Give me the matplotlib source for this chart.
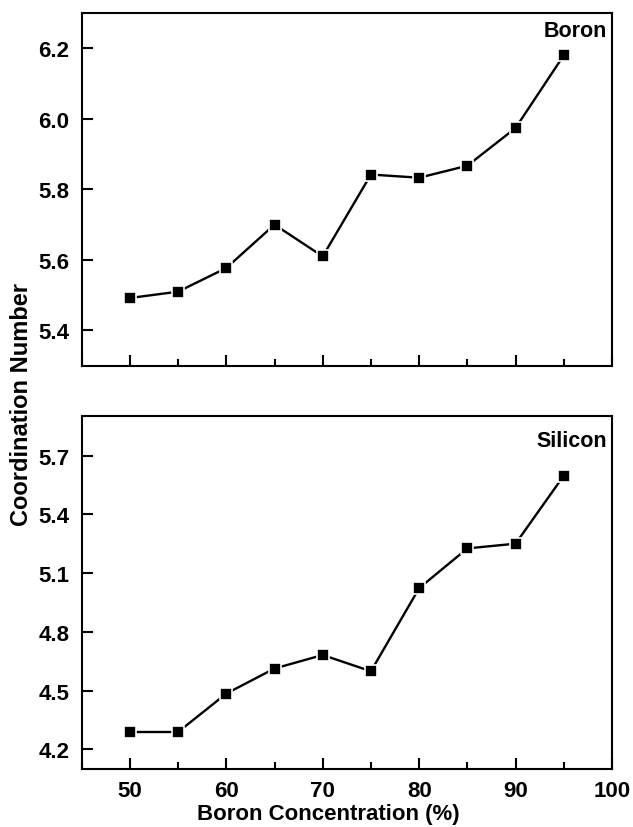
import matplotlib
matplotlib.use("Agg")
import matplotlib.pyplot as plt
from matplotlib.ticker import MultipleLocator

plt.rcParams['font.family'] = ['Liberation Sans', 'DejaVu Sans']
plt.rcParams['font.weight'] = 'bold'

conc = [50, 55, 60, 65, 70, 75, 80, 85, 90, 95]
boron_cn = [5.492, 5.510, 5.577, 5.700, 5.610, 5.842, 5.833, 5.867, 5.974, 6.180]
silicon_cn = [4.289, 4.289, 4.485, 4.613, 4.682, 4.599, 5.023, 5.226, 5.250, 5.597]

fig = plt.figure(figsize=(6.33, 8.28), dpi=100)
ax1 = fig.add_axes([0.1290, 0.5571, 0.8378, 0.4260])
ax2 = fig.add_axes([0.1290, 0.0700, 0.8378, 0.4260])

panels = [(ax1, boron_cn, "Boron", (5.3, 6.3), 0.2, 0.98),
          (ax2, silicon_cn, "Silicon", (4.1, 5.9), 0.3, 0.962)]

for ax, vals, name, ylim, step, ty in panels:
    ax.plot(conc, vals, color='black', lw=1.7, marker='s', ms=9.2,
            mfc='black', mec='white', mew=1.2)
    ax.set_xlim(45, 100)
    ax.set_ylim(*ylim)
    ax.xaxis.set_major_locator(MultipleLocator(10))
    ax.xaxis.set_minor_locator(MultipleLocator(5))
    ax.yaxis.set_major_locator(MultipleLocator(step))
    ax.tick_params(which='major', direction='in', length=8, width=1.5,
                   labelsize=16, top=False, right=False)
    ax.tick_params(axis='x', which='major', pad=8)
    ax.tick_params(axis='y', which='major', pad=9)
    ax.tick_params(which='minor', direction='in', length=4.8, width=1.5,
                   top=False, right=False)
    ax.tick_params(axis='y', which='minor', left=False)
    for s in ax.spines.values():
        s.set_linewidth(1.5)
    ax.text(0.991, ty, name, transform=ax.transAxes, ha='right', va='top',
            fontsize=15.5, fontweight='bold')
    ax.yaxis.set_major_formatter(plt.FormatStrFormatter('%.1f'))

ax1.tick_params(axis='x', labelbottom=False)
ax2.set_xticks([50, 60, 70, 80, 90, 100])
ax2.set_xlabel("Boron Concentration (%)", fontsize=16, fontweight='bold')
ax2.xaxis.set_label_coords(0.4644, -0.097)
fig.text(0.034, 0.511, "Coordination Number", rotation=90, ha='center', va='center',
         fontsize=17, fontweight='bold')

fig.savefig("out.png", dpi=100)
